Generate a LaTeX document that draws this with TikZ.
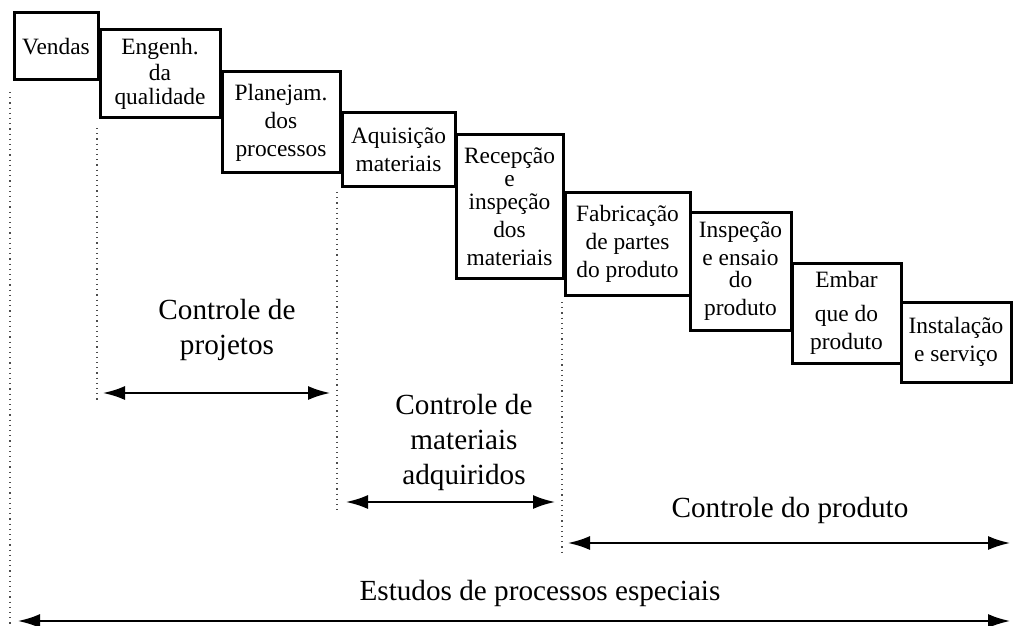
\documentclass[tikz,border=0pt]{standalone}
\usepackage{fontspec}
\setmainfont{Liberation Serif}
\usetikzlibrary{arrows.meta}
\begin{document}
\begin{tikzpicture}[x=0.5pt, y=-0.5pt,
	stage/.style={draw, line width=1.5pt, inner sep=0pt, align=center, font=\fontsize{11.7}{14}\selectfont},
	span/.style={{Latex[length=11pt,width=7pt]}-{Latex[length=11pt,width=7pt]}, line width=1pt},
	guide/.style={dotted, line width=0.6pt, black!70},
	spantext/.style={align=center, font=\fontsize{14.6}{17.5}\selectfont}]
	\useasboundingbox (0,0) rectangle (1013,626);
	\node[stage, minimum width=42pt, minimum height=33.5pt] (vendas) at (56,46.5) {Vendas};
	\node[stage, minimum width=60pt, minimum height=44pt] (engenh) at (160,74) {Engenh.\\[-1pt]da\\[-2pt]qualidade};
	\node[stage, minimum width=59pt, minimum height=50.5pt] (planej) at (281,122.5) {Planejam.\\dos\\processos};
	\node[stage, minimum width=56.5pt, minimum height=37pt] (aquis) at (398.5,150) {Aquisição\\materiais};
	\node[stage, minimum width=53.5pt, minimum height=71.5pt] (recep) at (509.5,206.5) {Recepção\\[-2.5pt]e\\[-2.5pt]inspeção\\dos\\materiais};
	\node[stage, minimum width=62.5pt, minimum height=51pt] (fabric) at (627.5,244) {Fabricação\\de partes\\do produto};
	\node[stage, minimum width=50.5pt, minimum height=58.5pt] (inspec) at (740.5,271.5) {Inspeção\\e ensaio\\[-3pt]do\\[0pt]produto};
	\node[stage, minimum width=54.5pt, minimum height=50pt] (embar) at (846.5,313) {Embar\\[3pt]que do\\produto};
	\node[stage, minimum width=55pt, minimum height=40pt] (instal) at (956,342) {Instalação\\e serviço};
	\draw[guide] (10,92) -- (10,625);
	\draw[guide] (97,128) -- (97,402);
	\draw[guide] (337,192) -- (337,513);
	\draw[guide] (562,302) -- (562,552);
	\coordinate (proj-l) at (103,393);
	\coordinate (proj-r) at (330,393);
	\coordinate (mat-l) at (346,502);
	\coordinate (mat-r) at (555,502);
	\coordinate (prod-l) at (568,543);
	\coordinate (prod-r) at (1010,543);
	\coordinate (est-l) at (18,621);
	\coordinate (est-r) at (1010,621);
	\node[spantext] (projtxt) at (227,330) {Controle de\\projetos};
	\node[spantext] (mattxt) at (464,442) {Controle de\\materiais\\adquiridos};
	\node[spantext] (prodtxt) at (790,510) {Controle do produto};
	\node[spantext] (esttxt) at (540,593) {Estudos de processos especiais};
	\draw[span] (proj-l) -- (proj-r);
	\draw[span] (mat-l) -- (mat-r);
	\draw[span] (prod-l) -- (prod-r);
	\draw[span] (est-l) -- (est-r);
\end{tikzpicture}
\end{document}
